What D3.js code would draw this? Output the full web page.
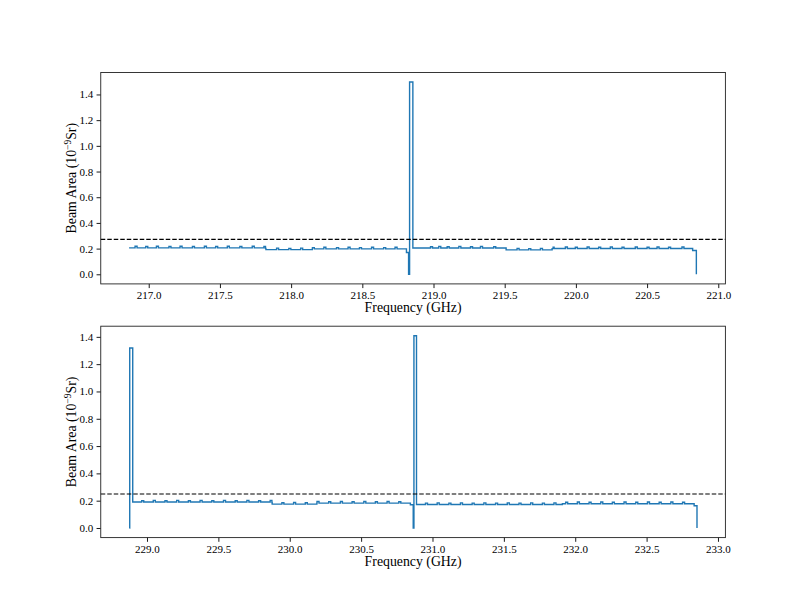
<!DOCTYPE html>
<html><head><meta charset="utf-8">
<script src="https://cdn.jsdelivr.net/npm/d3@7"></script>
<style>
body{margin:0;background:#fff}
svg{display:block}
text{font-family:"Liberation Serif","Times New Roman",serif;fill:#000}
</style>
</head><body><svg id="c" width="806" height="604"></svg>
<script>
// ---------- data ----------
const topTicks = [217.0, 217.5, 218.0, 218.5, 219.0, 219.5, 220.0, 220.5, 221.0];
const botTicks = [229.0, 229.5, 230.0, 230.5, 231.0, 231.5, 232.0, 232.5, 233.0];
const yTicks = [0.0, 0.2, 0.4, 0.6, 0.8, 1.0, 1.2, 1.4];

// step levels (frequency where the level starts, level value)
const topLevelFreq = [216.862, 217.820, 218.150, 218.810, 218.825, 218.832, 218.855, 219.510, 219.840, 220.820, 220.846];
const topLevelVal  = [0.206,   0.192,   0.198,   0.170,   0.000,   1.497,   0.205,   0.190,   0.201,   0.185,   0.000];
// small single-channel bumps on the baseline
const topBumpFreq = [216.904, 216.979, 217.054, 217.142, 217.220, 217.307, 217.391, 217.470, 217.552, 217.640, 217.727, 217.809,
                     217.898, 217.984, 218.067, 218.149, 218.230, 218.319, 218.400, 218.480, 218.565, 218.650, 218.730,
                     218.979, 219.037, 219.096, 219.178, 219.260, 219.330, 219.423, 219.587, 219.669, 219.751, 219.833,
                     219.926, 219.996, 220.079, 220.160, 220.242, 220.324, 220.417, 220.500, 220.570, 220.651, 220.745];
const topBumpVal  = [0.012, 0.010, 0.012, 0.010, 0.012, 0.010, 0.012, 0.010, 0.012, 0.010, 0.012, 0.010,
                     0.012, 0.010, 0.012, 0.010, 0.012, 0.010, 0.012, 0.010, 0.012, 0.010, 0.012,
                     0.010, 0.012, 0.010, 0.012, 0.010, 0.012, 0.010, 0.012, 0.010, 0.012, 0.010,
                     0.012, 0.010, 0.012, 0.010, 0.012, 0.010, 0.012, 0.010, 0.012, 0.010, 0.012];

const botLevelFreq = [228.876, 228.879, 228.900, 229.875, 230.190, 230.845, 230.865, 230.870, 230.888, 231.910, 232.833, 232.853];
const botLevelVal  = [0.000,   1.318,   0.190,   0.175,   0.182,   0.170,   0.000,   1.408,   0.172,   0.178,   0.163,   0.000];
const botBumpFreq = [228.963, 229.044, 229.126, 229.208, 229.290, 229.372, 229.454, 229.536, 229.618, 229.700, 229.782, 229.863,
                     229.945, 230.027, 230.109, 230.191, 230.273, 230.355, 230.437, 230.519, 230.600, 230.682, 230.764,
                     230.951, 231.033, 231.115, 231.196, 231.278, 231.360, 231.442, 231.524, 231.606, 231.688, 231.770,
                     231.851, 231.933, 232.015, 232.097, 232.179, 232.260, 232.342, 232.424, 232.506, 232.588, 232.670, 232.752];
const botBumpVal  = [0.010, 0.012, 0.010, 0.012, 0.010, 0.012, 0.010, 0.012, 0.010, 0.012, 0.010, 0.012,
                     0.010, 0.012, 0.010, 0.012, 0.010, 0.012, 0.010, 0.012, 0.010, 0.012, 0.010,
                     0.010, 0.012, 0.010, 0.012, 0.010, 0.012, 0.010, 0.012, 0.010, 0.012, 0.010,
                     0.012, 0.010, 0.012, 0.010, 0.012, 0.010, 0.012, 0.010, 0.012, 0.010, 0.012, 0.010];
const bumpWidth = 0.014;

const topThreshold = 0.272;
const botThreshold = 0.249;

const xLimTop = [216.663, 221.050];
const xLimBot = [228.676, 233.052];
const yLimTop = [-0.0748, 1.571];
const yLimBot = [-0.0704, 1.478];

// ---------- build step series ----------
function buildSteps(lf, lv, bf, bv) {
  const set = new Set(lf);
  bf.forEach(f => { set.add(f); set.add(+(f + bumpWidth).toFixed(4)); });
  const last = lf[lf.length - 1];
  const xs = Array.from(set).filter(x => x <= last).sort((a, b) => a - b);
  return xs.map(x => {
    const i = d3.bisectRight(lf, x + 1e-9) - 1;
    let v = lv[i];
    bf.forEach((f, j) => { if (x >= f - 1e-9 && x < f + bumpWidth - 1e-6) v += bv[j]; });
    return [x, v];
  });
}

const panels = [
  {top: 72.5, bottom: 283.9, xLim: xLimTop, yLim: yLimTop, ticks: topTicks,
   data: buildSteps(topLevelFreq, topLevelVal, topBumpFreq, topBumpVal), thr: topThreshold},
  {top: 326.2, bottom: 537.6, xLim: xLimBot, yLim: yLimBot, ticks: botTicks,
   data: buildSteps(botLevelFreq, botLevelVal, botBumpFreq, botBumpVal), thr: botThreshold}
];

const left = 100.75, right = 725.4;
const svg = d3.select("#c");

panels.forEach(p => {
  const x = d3.scaleLinear().domain(p.xLim).range([left, right]);
  const y = d3.scaleLinear().domain(p.yLim).range([p.bottom, p.top]);
  const g = svg.append("g");

  // x axis
  const xa = g.append("g").attr("transform", `translate(0,${p.bottom})`)
    .call(d3.axisBottom(x).tickValues(p.ticks).tickFormat(d => d.toFixed(1))
      .tickSizeOuter(0).tickSize(4.2).tickPadding(3.2));
  xa.select(".domain").remove();
  xa.selectAll("line").attr("stroke", "#000").attr("stroke-width", 0.9);
  xa.selectAll("text").attr("font-family", '"Liberation Serif", serif').attr("font-size", 11).attr("fill", "#000");

  // y axis
  const ya = g.append("g").attr("transform", `translate(${left},0)`)
    .call(d3.axisLeft(y).tickValues(yTicks).tickFormat(d => d.toFixed(1))
      .tickSizeOuter(0).tickSize(4.2).tickPadding(3.2));
  ya.select(".domain").remove();
  ya.selectAll("line").attr("stroke", "#000").attr("stroke-width", 0.9);
  ya.selectAll("text").attr("font-family", '"Liberation Serif", serif').attr("font-size", 11).attr("fill", "#000");

  // data line
  const line = d3.line().x(d => x(d[0])).y(d => y(d[1])).curve(d3.curveStepAfter);
  g.append("path").datum(p.data).attr("d", line)
    .attr("fill", "none").attr("stroke", "#1f77b4").attr("stroke-width", 1.4)
    .attr("stroke-linejoin", "miter");

  // threshold dashed line
  g.append("line").attr("x1", left).attr("x2", right)
    .attr("y1", y(p.thr)).attr("y2", y(p.thr))
    .attr("stroke", "#000").attr("stroke-width", 1.1).attr("stroke-dasharray", "4.5,2");

  // spines
  g.append("rect").attr("x", left).attr("y", p.top).attr("width", right - left).attr("height", p.bottom - p.top)
    .attr("fill", "none").attr("stroke", "#222").attr("stroke-width", 0.9);

  // labels
  g.append("text").attr("x", (left + right) / 2).attr("y", p.bottom + 28)
    .attr("text-anchor", "middle").attr("font-size", 13.8).text("Frequency (GHz)");

  const cy = (p.top + p.bottom) / 2;
  const yl = g.append("text").attr("transform", `translate(76,${cy}) rotate(-90)`)
    .attr("text-anchor", "middle").attr("font-size", 13.8);
  yl.append("tspan").text("Beam Area (10");
  yl.append("tspan").attr("baseline-shift", "super").attr("font-size", 9.5).text("\u22129");
  yl.append("tspan").text("Sr)");
});
</script>
</body></html>
